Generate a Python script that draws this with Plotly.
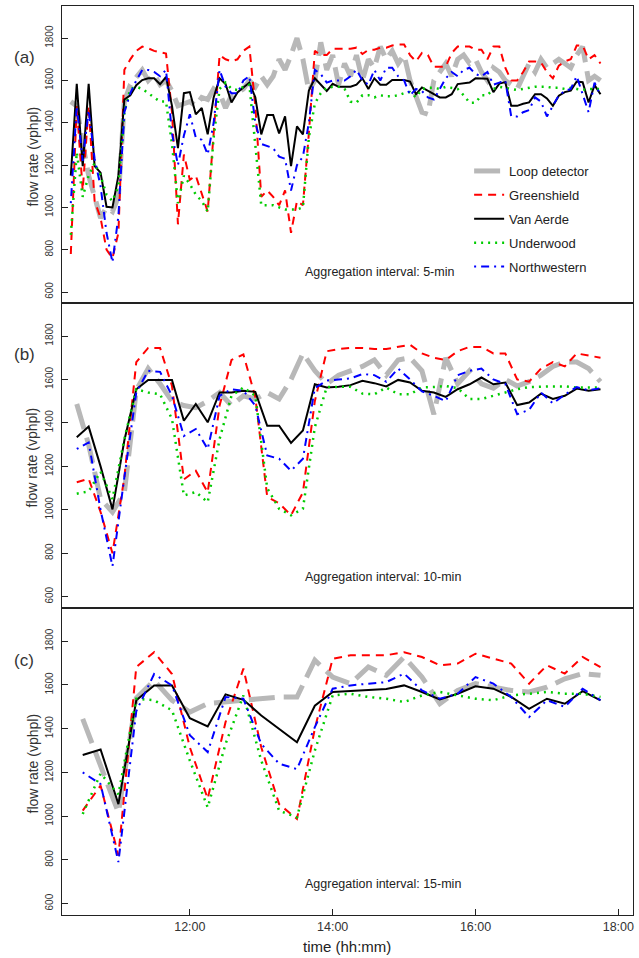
import plotly.graph_objects as go

# ---------------- data ----------------
# Panel (a): 5-min aggregation, 10:20 .. 17:45
start_a, step_a = "10:20", 5
loop_a = [1500, 1480, 1300, 1150, 1050, 950, 1000, 980, 1050, 1500,
          1580, 1620, 1650, 1600, 1630, 1580, 1600, 1550, 1480, 1490,
          1500, 1480, 1520, 1510, 1560, 1540, 1470, 1530, 1540, 1560,
          1600, 1570, 1620, 1580, 1620, 1700, 1650, 1720, 1800, 1700,
          1550, 1600, 1780, 1650, 1720, 1580, 1680, 1620, 1720, 1600,
          1700, 1660, 1760, 1700, 1740, 1680, 1720, 1600, 1520, 1450,
          1440, 1600, 1640, 1680, 1620, 1700, 1720, 1680, 1700, 1640,
          1600, 1660, 1640, 1600, 1580, 1560, 1620, 1680, 1640, 1700,
          1660, 1680, 1700, 1680, 1660, 1720, 1760, 1600, 1620, 1600]
greenshield_a = [780, 1480, 1080, 1480, 1030, 950, 800, 760, 880, 1650,
                 1700, 1740, 1760, 1752, 1740, 1735, 1727, 1450, 920, 1250,
                 1130, 1150, 1060, 980, 1350, 1720, 1700, 1690, 1700, 1740,
                 1760, 1480, 1050, 1080, 1050, 1010, 1080, 880, 1030, 1010,
                 1350, 1740, 1720, 1720, 1750, 1750, 1750, 1750, 1755, 1725,
                 1745, 1745, 1755, 1755, 1765, 1770, 1770, 1720, 1690, 1730,
                 1720, 1665, 1665, 1665, 1730, 1760, 1760, 1760, 1745, 1745,
                 1700, 1760, 1760, 1660, 1600, 1600, 1640, 1690, 1690, 1685,
                 1640, 1610, 1670, 1690, 1700, 1765, 1765, 1700, 1720, 1680]
vanaerde_a = [1150, 1584, 1195, 1584, 1195, 1164, 1003, 1000, 1150, 1510,
              1530, 1578, 1602, 1610, 1610, 1582, 1617, 1480, 1280, 1540,
              1545, 1440, 1470, 1345, 1520, 1610, 1583, 1496, 1543, 1567,
              1590, 1520, 1345, 1437, 1437, 1350, 1430, 1195, 1383, 1345,
              1552, 1610, 1580, 1550, 1584, 1570, 1570, 1570, 1580, 1610,
              1560, 1610, 1580, 1580, 1602, 1602, 1602, 1595, 1535, 1567,
              1550, 1535, 1520, 1520, 1535, 1583, 1585, 1590, 1610, 1610,
              1608, 1545, 1585, 1592, 1480, 1480, 1490, 1496, 1535, 1535,
              1515, 1480, 1528, 1545, 1552, 1595, 1592, 1496, 1578, 1535]
underwood_a = [870, 1260, 1050, 1150, 1210, 1150, 1060, 1030, 1100, 1450,
               1560, 1570, 1560, 1540, 1520, 1500, 1500, 1300, 1020, 1150,
               1110, 1060, 1030, 980, 1330, 1560, 1590, 1560, 1555, 1570,
               1580, 1280, 1010, 1010, 1010, 1000, 990, 990, 990, 1000,
               1330, 1490, 1540, 1565, 1570, 1570, 1560, 1500, 1495, 1530,
               1530, 1520, 1530, 1525, 1525, 1530, 1540, 1545, 1520, 1560,
               1565, 1565, 1560, 1570, 1565, 1560, 1530, 1495, 1495, 1530,
               1530, 1560, 1570, 1565, 1560, 1555, 1560, 1565, 1570, 1570,
               1570, 1565, 1565, 1560, 1565, 1560, 1555, 1560, 1560, 1560]
northwestern_a = [1020, 1480, 1220, 1460, 1230, 1100, 880, 740, 960, 1450,
                  1540, 1600, 1650, 1650, 1640, 1620, 1650, 1350, 1200, 1340,
                  1440, 1330, 1320, 1250, 1400, 1650, 1570, 1540, 1540, 1600,
                  1620, 1400, 1300, 1290, 1280, 1240, 1230, 1080, 1200, 1240,
                  1400, 1650, 1630, 1590, 1600, 1600, 1600, 1620, 1650, 1600,
                  1580, 1650, 1600, 1660, 1660, 1620, 1600, 1530, 1560, 1550,
                  1520, 1510, 1560, 1610, 1640, 1620, 1650, 1660, 1630, 1620,
                  1640, 1580, 1590, 1600, 1430, 1430, 1450, 1460, 1520, 1500,
                  1430, 1480, 1530, 1550, 1560, 1620, 1540, 1450, 1590, 1530]

# Panel (b): 10-min aggregation, 10:25 .. 17:45
start_b, step_b = "10:25", 10
loop_b = [1487, 1300, 1050, 990, 1080, 1550, 1650, 1580, 1500, 1480,
          1470, 1500, 1540, 1480, 1525, 1510, 1540, 1510, 1600, 1720,
          1640, 1580, 1620, 1640, 1660, 1690, 1620, 1690, 1700, 1640,
          1440, 1700, 1580, 1640, 1580, 1560, 1600, 1570, 1590, 1620,
          1660, 1680, 1680, 1650, 1590]
greenshield_b = [1127, 1143, 990, 800, 1150, 1680, 1745, 1745, 1570, 1140,
                 1180, 1080, 1480, 1690, 1715, 1520, 1060, 1030, 975, 1080,
                 1500, 1730, 1740, 1745, 1745, 1740, 1740, 1750, 1760, 1720,
                 1700, 1690, 1730, 1750, 1750, 1720, 1720, 1600, 1590, 1650,
                 1680, 1660, 1720, 1710, 1700]
vanaerde_b = [1334, 1383, 1200, 1002, 1320, 1555, 1598, 1598, 1598, 1410,
              1487, 1403, 1540, 1540, 1548, 1543, 1387, 1387, 1308, 1365,
              1578, 1563, 1566, 1574, 1594, 1583, 1568, 1598, 1586, 1548,
              1540, 1520, 1555, 1578, 1609, 1578, 1586, 1482, 1494, 1535,
              1510, 1525, 1558, 1548, 1555]
underwood_b = [1074, 1085, 1175, 1050, 1326, 1555, 1540, 1532, 1418, 1066,
               1082, 1035, 1326, 1525, 1563, 1525, 1100, 1005, 975, 1005,
               1380, 1565, 1566, 1566, 1535, 1532, 1563, 1532, 1532, 1563,
               1565, 1570, 1560, 1510, 1510, 1525, 1540, 1555, 1565, 1568,
               1568, 1568, 1563, 1563, 1563]
northwestern_b = [1280, 1310, 1000, 740, 1150, 1540, 1640, 1635, 1525, 1340,
                  1372, 1280, 1525, 1555, 1548, 1480, 1250, 1235, 1180, 1235,
                  1560, 1595, 1600, 1605, 1625, 1620, 1590, 1650, 1600, 1545,
                  1525, 1500, 1620, 1640, 1650, 1600, 1580, 1440, 1460, 1540,
                  1490, 1530, 1565, 1550, 1560]

# Panel (c): 15-min aggregation, 10:30 .. 17:45
start_c, step_c = "10:30", 15
loop_c = [1445, 1225, 1017, 1540, 1620, 1530, 1476, 1515, 1522, 1530,
          1537, 1545, 1545, 1713, 1636, 1606, 1682, 1644, 1728, 1636,
          1514, 1575, 1606, 1590, 1575, 1568, 1590, 1628, 1652, 1644]
greenshield_c = [1025, 1140, 820, 1682, 1750, 1650, 1315, 1080, 1430, 1675,
                 1315, 1055, 987, 1400, 1720, 1736, 1736, 1736, 1750, 1728,
                 1690, 1698, 1743, 1720, 1698, 1606, 1690, 1652, 1728, 1682]
vanaerde_c = [1280, 1305, 1055, 1530, 1598, 1598, 1448, 1410, 1557, 1532,
              1460, 1400, 1338, 1505, 1568, 1572, 1578, 1582, 1598, 1568,
              1534, 1560, 1594, 1583, 1545, 1491, 1537, 1514, 1572, 1530]
underwood_c = [1010, 1195, 1100, 1537, 1530, 1484, 1254, 1040, 1330, 1552,
               1254, 1025, 995, 1300, 1552, 1560, 1545, 1537, 1522, 1552,
               1568, 1552, 1537, 1530, 1552, 1560, 1568, 1560, 1560, 1545]
northwestern_c = [1200, 1147, 790, 1480, 1650, 1598, 1370, 1293, 1545, 1537,
                  1330, 1240, 1215, 1407, 1583, 1598, 1606, 1613, 1652, 1575,
                  1537, 1560, 1636, 1606, 1545, 1453, 1530, 1500, 1583, 1530]

series_names = ["Loop detector", "Greenshield", "Van Aerde", "Underwood", "Northwestern"]
panel_labels = ["(a)", "(b)", "(c)"]
interval_labels = ["Aggregation interval: 5-min", "Aggregation interval: 10-min",
                   "Aggregation interval: 15-min"]
x_tick_vals = [12, 14, 16, 18]
x_tick_text = ["12:00", "14:00", "16:00", "18:00"]
y_tick_vals = [600, 800, 1000, 1200, 1400, 1600, 1800]

# ---------------- helpers ----------------
def times(start, step, n):
    h, m = map(int, start.split(":"))
    t0 = h + m / 60.0
    return [t0 + step * k / 60.0 for k in range(n)]

panels = [
    (start_a, step_a, [loop_a, greenshield_a, vanaerde_a, underwood_a, northwestern_a]),
    (start_b, step_b, [loop_b, greenshield_b, vanaerde_b, underwood_b, northwestern_b]),
    (start_c, step_c, [loop_c, greenshield_c, vanaerde_c, underwood_c, northwestern_c]),
]

styles = [
    dict(color="#B8B8B8", width=5, dash="26px,9px"),
    dict(color="#FF0000", width=2, dash="8px,6px"),
    dict(color="#000000", width=2),
    dict(color="#00CC00", width=2.5, dash="2px,5px"),
    dict(color="#0000FF", width=2, dash="2px,5px,8px,5px"),
]

FONT = "Liberation Sans, Arial, sans-serif"
fig = go.Figure()

# pixel geometry of plot area (top 6, bottom 915, left 62, right 633)
H_TOP, H_BOT = 6, 915
span = H_BOT - H_TOP
def py(p):
    return (H_BOT - p) / span

panel_px = [(6, 303), (303, 608), (608, 915)]

for pi, (st, sp, vals) in enumerate(panels):
    xs = times(st, sp, len(vals[0]))
    xa = "x" if pi == 0 else f"x{pi+1}"
    ya = "y" if pi == 0 else f"y{pi+1}"
    for si, v in enumerate(vals):
        fig.add_trace(go.Scatter(
            x=xs, y=v, mode="lines", name=series_names[si],
            line=styles[si], xaxis=xa, yaxis=ya,
            showlegend=(pi == 0), legendgroup=series_names[si],
        ))

layout = dict(
    width=639, height=958,
    margin=dict(l=62, r=6, t=6, b=43),
    paper_bgcolor="white", plot_bgcolor="white",
    font=dict(family=FONT, color="#222222"),
    showlegend=True,
    legend=dict(x=0.713, y=py(156), xanchor="left", yanchor="top",
                font=dict(size=13, family=FONT, color="#222222"),
                bgcolor="rgba(0,0,0,0)", borderwidth=0,
                tracegroupgap=4, itemwidth=30),
)

for pi, (top, bot) in enumerate(panel_px):
    xk = "xaxis" if pi == 0 else f"xaxis{pi+1}"
    yk = "yaxis" if pi == 0 else f"yaxis{pi+1}"
    ya = "y" if pi == 0 else f"y{pi+1}"
    xa = "x" if pi == 0 else f"x{pi+1}"
    layout[xk] = dict(
        domain=[0, 1], anchor=ya, range=[10.21, 18.205],
        tickvals=x_tick_vals, ticktext=x_tick_text,
        showticklabels=(pi == 2), ticks="inside" if pi == 2 else "",
        ticklen=6, tickwidth=1.3, tickcolor="#222",
        tickfont=dict(size=12.5, family=FONT, color="#333"),
        showgrid=False, zeroline=False,
        showline=True, mirror=True, linecolor="#222", linewidth=1.2,
    )
    if pi > 0:
        layout[xk]["matches"] = "x"
    layout[yk] = dict(
        domain=[py(bot), py(top)], anchor=xa, range=[548, 1952],
        tickvals=y_tick_vals, tickangle=-90,
        ticks="inside", ticklen=6, tickwidth=1.3, tickcolor="#222",
        tickfont=dict(size=10, family=FONT, color="#333"),
        showgrid=False, zeroline=False,
        showline=True, mirror=True, linecolor="#222", linewidth=1.2,
        ticklabelstandoff=4,
    )

annotations = []
for pi, (top, bot) in enumerate(panel_px):
    mid = (top + bot) / 2
    annotations.append(dict(
        x=(32 - 62) / 571, y=py(mid + 2), xref="paper", yref="paper",
        text="flow rate (vphpl)", textangle=-90, showarrow=False,
        font=dict(size=14, family=FONT, color="#333"),
        xanchor="center", yanchor="middle"))
    annotations.append(dict(
        x=(24 - 62) / 571, y=py(top + 52), xref="paper", yref="paper",
        text=panel_labels[pi], showarrow=False,
        font=dict(size=17, family=FONT, color="#333"),
        xanchor="center", yanchor="middle"))
    annotations.append(dict(
        x=(303 - 62) / 571, y=py(bot - 31), xref="paper", yref="paper",
        text=interval_labels[pi], showarrow=False,
        font=dict(size=12.5, family=FONT, color="#222"),
        xanchor="left", yanchor="middle"))
annotations.append(dict(
    x=(347 - 62) / 571, y=py(947), xref="paper", yref="paper",
    text="time (hh:mm)", showarrow=False,
    font=dict(size=15, family=FONT, color="#222"),
    xanchor="center", yanchor="middle"))
layout["annotations"] = annotations

fig.update_layout(**layout)
fig.write_html("out.html")
